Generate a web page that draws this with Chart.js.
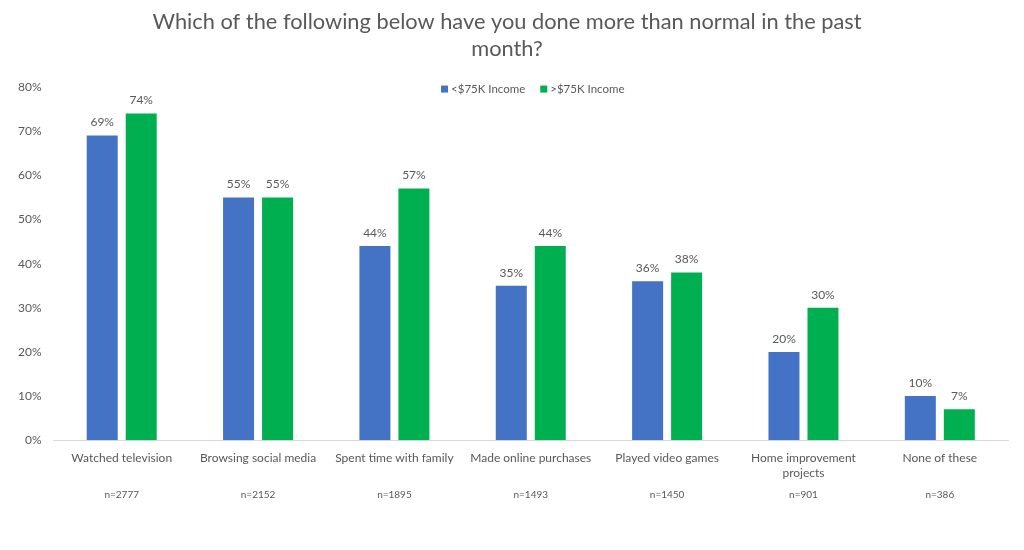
<!DOCTYPE html>
<html><head><meta charset="utf-8">
<script src="https://cdn.jsdelivr.net/npm/chart.js@4"></script>
<style>html,body{margin:0;padding:0;background:#fff}#wrap{width:1024px;height:550px}</style>
</head><body><div id="wrap"><canvas id="c"></canvas></div>
<script>
const categories = [["Watched television"],["Browsing social media"],["Spent time with family"],["Made online purchases"],["Played video games"],["Home improvement","projects"],["None of these"]];
const sampleSizes = ["n=2777","n=2152","n=1895","n=1493","n=1450","n=901","n=386"];
const lowIncome = [69,55,44,35,36,20,10];
const highIncome = [74,55,57,44,38,30,7];
const seriesNames = ["<$75K Income", ">$75K Income"];
const titleLines = ["Which of the following below have you done more than normal in the past","month?"];

const FONT = "Lato, 'Open Sans', sans-serif";
const GREY = "#595959";

const valueLabels = {
  id: 'valueLabels',
  afterDatasetsDraw(chart) {
    const ctx = chart.ctx;
    ctx.save();
    ctx.font = "12px " + FONT;
    ctx.fillStyle = GREY;
    ctx.textAlign = 'center';
    ctx.textBaseline = 'bottom';
    chart.data.datasets.forEach((ds, di) => {
      const meta = chart.getDatasetMeta(di);
      meta.data.forEach((bar, i) => {
        ctx.fillText(ds.data[i] + '%', bar.x, bar.y - 7);
      });
    });
    ctx.restore();
  }
};

const innerLegend = {
  id: 'innerLegend',
  afterDraw(chart) {
    const ctx = chart.ctx;
    const area = chart.chartArea;
    ctx.save();
    ctx.font = "11.5px " + FONT;
    ctx.textBaseline = 'middle';
    ctx.textAlign = 'left';
    const box = 7, gapBox = 3, gapItem = 15;
    const items = chart.data.datasets.map(ds => ({text: ds.label, color: ds.backgroundColor, w: box + gapBox + ctx.measureText(ds.label).width}));
    const total = items.reduce((s, it) => s + it.w, 0) + gapItem * (items.length - 1);
    let x = (area.left + area.right) / 2 + 2 - total / 2;
    const y = area.top + 2;
    items.forEach(it => {
      ctx.fillStyle = it.color;
      ctx.fillRect(x, y - box / 2, box, box);
      ctx.fillStyle = GREY;
      ctx.fillText(it.text, x + box + gapBox, y);
      x += it.w + gapItem;
    });
    ctx.restore();
  }
};

new Chart(document.getElementById('c'), {
  type: 'bar',
  data: {
    labels: categories,
    datasets: [
      {label: seriesNames[0], data: lowIncome, backgroundColor: '#4472C4', categoryPercentage: 0.572, barPercentage: 0.795},
      {label: seriesNames[1], data: highIncome, backgroundColor: '#00B050', categoryPercentage: 0.572, barPercentage: 0.795}
    ]
  },
  options: {
    responsive: true,
    maintainAspectRatio: false,
    animation: false,
    layout: {padding: {left: 6, right: 16, top: 4, bottom: 51}},
    plugins: {
      title: {display: true, text: titleLines, color: GREY, font: {family: FONT, size: 21.8, weight: 'normal', lineHeight: 1.24}, padding: {top: 4, bottom: 25}},
      legend: {display: false},
      tooltip: {enabled: false}
    },
    scales: {
      x: {
        grid: {display: false, drawTicks: false},
        border: {color: '#d9d9d9'},
        ticks: {color: GREY, font: {family: FONT, size: 12}, padding: 11, maxRotation: 0, autoSkip: false}
      },
      x2: {
        type: 'category',
        labels: sampleSizes,
        position: 'bottom',
        offset: true,
        grid: {display: false, drawTicks: false},
        border: {display: false},
        ticks: {color: GREY, font: {family: FONT, size: 10}, padding: -2, maxRotation: 0, autoSkip: false}
      },
      y: {
        min: 0, max: 80,
        grid: {display: false, drawTicks: false},
        border: {display: false},
        ticks: {stepSize: 10, color: GREY, font: {family: FONT, size: 12}, padding: 12, callback: v => v + '%'}
      }
    }
  },
  plugins: [valueLabels, innerLegend]
});
</script></body></html>
